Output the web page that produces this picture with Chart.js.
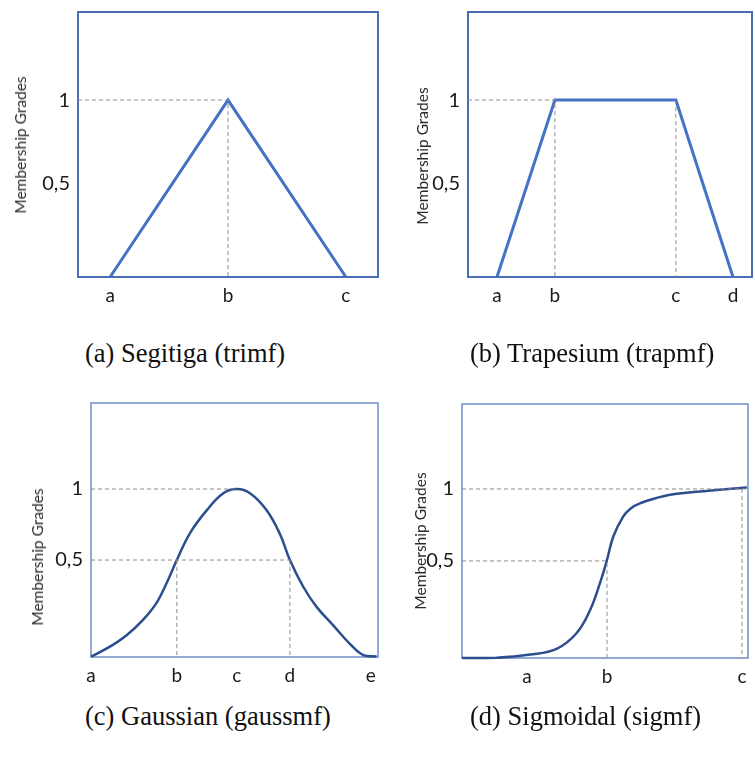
<!DOCTYPE html>
<html>
<head>
<meta charset="utf-8">
<script src="https://cdn.jsdelivr.net/npm/chart.js@4.4.1/dist/chart.umd.min.js"></script>
<style>
  body { margin: 0; background: #fff; width: 755px; height: 760px; position: relative; overflow: hidden; }
  .panel { position: absolute; }
  .ylab { position: absolute; font: 15.5px Lato, sans-serif; color: #2a2a2a; white-space: nowrap;
          transform: translate(-50%, -50%) rotate(-90deg); }
  .cap { position: absolute; font: 26.5px "Liberation Serif", serif; color: #111; white-space: nowrap; line-height: 1; }
</style>
</head>
<body>

<div class="panel" id="pa" style="left:0;top:-8px;width:388px;height:328px"><canvas id="ca"></canvas></div>
<div class="panel" id="pb" style="left:380px;top:-8px;width:375px;height:328px"><canvas id="cb"></canvas></div>
<div class="panel" id="pc" style="left:0;top:380px;width:388px;height:320px"><canvas id="cc"></canvas></div>
<div class="panel" id="pd" style="left:380px;top:380px;width:375px;height:320px"><canvas id="cd"></canvas></div>

<div class="ylab" style="left:20px;top:145px">Membership Grades</div>
<div class="ylab" style="left:422px;top:156px">Membership Grades</div>
<div class="ylab" style="left:37px;top:557px">Membership Grades</div>
<div class="ylab" style="left:420px;top:541px">Membership Grades</div>

<div class="cap" style="left:85px;top:340px">(a) Segitiga (trimf)</div>
<div class="cap" style="left:470px;top:340px">(b) Trapesium (trapmf)</div>
<div class="cap" style="left:85px;top:703px">(c) Gaussian (gaussmf)</div>
<div class="cap" style="left:470px;top:703px">(d) Sigmoidal (sigmf)</div>

<script>
// y ticks shared by all four plots
const yTickVals = [0.5, 1];
const yTickText = ['0,5', '1'];

// (a) triangle
const triKnots = [1.07, 5.0, 8.93];
const triGrade = [-0.065, 1, -0.065];
const triLetters = ['a', 'b', 'c'];

// (b) trapezoid
const trapKnots = [1.02, 3.06, 7.32, 9.33];
const trapGrade = [-0.065, 1, 1, -0.065];
const trapLetters = ['a', 'b', 'c', 'd'];

// (c) gaussian-like curve
const gaussX = [0, 0.66, 1.24, 1.82, 2.29, 2.64, 2.99, 3.45, 4.03, 4.61, 5.08, 5.54, 6.12, 6.59, 6.93, 7.40, 7.86, 8.44, 9.02, 9.49, 9.95];
const gaussY = [-0.18, -0.11, -0.03, 0.08, 0.2, 0.34, 0.5, 0.69, 0.85, 0.97, 1.0, 0.97, 0.85, 0.68, 0.5, 0.31, 0.17, 0.04, -0.09, -0.17, -0.18];
const gaussTicks = [0, 2.99, 5.08, 6.93, 9.75];
const gaussLetters = ['a', 'b', 'c', 'd', 'e'];

// (d) sigmoid curve
const sigX = [0, 1.21, 2.38, 3.31, 4.01, 4.48, 4.83, 5.06, 5.29, 5.64, 5.9, 6.22, 7.04, 8.21, 9.96];
const sigY = [-0.174, -0.172, -0.15, -0.11, 0.0, 0.16, 0.35, 0.5, 0.67, 0.81, 0.865, 0.90, 0.95, 0.98, 1.01];
const sigTicks = [2.27, 5.07, 9.79];
const sigLetters = ['a', 'b', 'c'];

const pts = (xs, ys) => xs.map((x, i) => ({ x, y: ys[i] }));

// box around the plot area
const frame = {
  id: 'frame',
  beforeDatasetsDraw(chart, args, opts) {
    const { ctx, chartArea: a } = chart;
    ctx.save();
    ctx.strokeStyle = opts.color;
    ctx.lineWidth = opts.width;
    ctx.strokeRect(a.left, a.top, a.right - a.left, a.bottom - a.top);
    ctx.restore();
  }
};

function guide(data) {
  return { data, borderColor: '#8c8c8c', borderWidth: 1, borderDash: [4, 3], pointRadius: 0, tension: 0, clip: false };
}

function curve(data, color, width, tension) {
  return { data, borderColor: color, borderWidth: width, pointRadius: 0, clip: false, tension };
}

function makeChart(id, o) {
  return new Chart(document.getElementById(id), {
    type: 'line',
    data: { datasets: [...o.guides.map(guide), o.main] },
    options: {
      responsive: true,
      maintainAspectRatio: false,
      animation: false,
      layout: { autoPadding: false, padding: o.pad },
      plugins: { legend: { display: false }, tooltip: { enabled: false }, frame: { color: o.frameColor, width: o.frameWidth } },
      scales: {
        x: {
          type: 'linear', min: 0, max: 10,
          grid: { display: false, drawTicks: false },
          border: { display: false },
          afterBuildTicks: s => { s.ticks = o.xTicks.map(v => ({ value: v })); },
          afterFit: s => { s.height = o.axisH; },
          ticks: {
            autoSkip: false, maxRotation: 0, padding: 7,
            color: '#1a1a1a', font: { family: 'Lato', size: 19 },
            callback: (v, i) => o.xLetters[i]
          }
        },
        y: {
          type: 'linear', min: o.yMin, max: o.yMax,
          grid: { display: false, drawTicks: false },
          border: { display: false },
          afterBuildTicks: s => { s.ticks = yTickVals.map(v => ({ value: v })); },
          afterFit: s => { s.width = o.axisW; },
          ticks: {
            padding: 8, color: '#1a1a1a', font: { family: 'Lato', size: 20 },
            callback: (v, i) => yTickText[i]
          }
        }
      }
    },
    plugins: [frame]
  });
}

// (a)
makeChart('ca', {
  xTicks: triKnots, xLetters: triLetters, yMin: -0.065, yMax: 1.53,
  axisW: 78, axisH: 43, pad: { top: 10, right: 10, left: 0, bottom: 0 },
  frameColor: '#4a6db3', frameWidth: 2,
  guides: [[{ x: 0, y: 1 }, { x: triKnots[1], y: 1 }, { x: triKnots[1], y: -0.065 }]],
  main: curve(pts(triKnots, triGrade), '#4472c4', 3, 0)
});

// (b)
makeChart('cb', {
  xTicks: trapKnots, xLetters: trapLetters, yMin: -0.065, yMax: 1.53,
  axisW: 88, axisH: 43, pad: { top: 10, right: 3, left: 0, bottom: 0 },
  frameColor: '#4a6db3', frameWidth: 2,
  guides: [
    [{ x: 0, y: 1 }, { x: trapKnots[1], y: 1 }, { x: trapKnots[1], y: -0.065 }],
    [{ x: trapKnots[2], y: 1 }, { x: trapKnots[2], y: -0.065 }]
  ],
  main: curve(pts(trapKnots, trapGrade), '#4472c4', 3, 0)
});

// (c)
makeChart('cc', {
  xTicks: gaussTicks, xLetters: gaussLetters, yMin: -0.183, yMax: 1.606,
  axisW: 91, axisH: 43, pad: { top: 23, right: 10, left: 0, bottom: 0 },
  frameColor: '#6f8ec6', frameWidth: 1.5,
  guides: [
    [{ x: 0, y: 1 }, { x: gaussTicks[2], y: 1 }],
    [{ x: 0, y: 0.5 }, { x: gaussTicks[3], y: 0.5 }],
    [{ x: gaussTicks[1], y: 0.5 }, { x: gaussTicks[1], y: -0.183 }],
    [{ x: gaussTicks[3], y: 0.5 }, { x: gaussTicks[3], y: -0.183 }]
  ],
  main: curve(pts(gaussX, gaussY), '#2d4e8e', 2.5, 0.4)
});

// (d)
makeChart('cd', {
  xTicks: sigTicks, xLetters: sigLetters, yMin: -0.174, yMax: 1.59,
  axisW: 82, axisH: 42, pad: { top: 24, right: 7, left: 0, bottom: 0 },
  frameColor: '#6f8ec6', frameWidth: 1.5,
  guides: [
    [{ x: 0, y: 1 }, { x: 10, y: 1 }],
    [{ x: sigTicks[2], y: 1 }, { x: sigTicks[2], y: -0.174 }],
    [{ x: 0, y: 0.5 }, { x: sigTicks[1], y: 0.5 }, { x: sigTicks[1], y: -0.174 }]
  ],
  main: curve(pts(sigX, sigY), '#2d4e8e', 2.5, 0.4)
});
</script>
</body>
</html>
